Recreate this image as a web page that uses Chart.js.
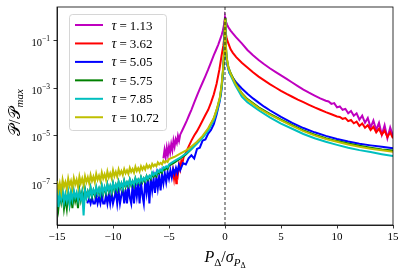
<!DOCTYPE html>
<html lang="en">
<head>
<meta charset="UTF-8">
<title>P distribution vs tau</title>
<script src="https://cdn.jsdelivr.net/npm/chart.js"></script>
<style>
  body { margin: 0; background: #fff; }
  canvas { display: block; }
</style>
</head>
<body>
<canvas id="chart" width="407" height="273"></canvas>
<script>
// legend values and line colours (matplotlib m, r, b, g, c, y)
const tauLabels = ['1.13', '3.62', '5.05', '5.75', '7.85', '10.72'];
const lineColors = ['#bf00bf', '#ff0000', '#0000ff', '#008000', '#00bfbf', '#bfbf00'];
const xTicks = [-15, -10, -5, 0, 5, 10, 15];
const yTickExps = [-7, -5, -3, -1];

// all y values are log10(P/Pmax)
const magLeftX = [-5.5,-5.4,-5.3,-5.2,-5.1,-5.0,-4.9,-4.8,-4.7,-4.6,-4.5,-4.4,-4.3,-4.2,-4.1,-4.0,-3.8,-3.6,-3.4,-3.2,-3.0,-2.75,-2.5,-2.25,-2.0,-1.75,-1.5,-1.25,-1.0,-0.8,-0.6,-0.45,-0.3,-0.2,-0.1,-0.05,0];
const magLeftY = [-5.95,-5.6,-5.9,-5.5,-5.8,-5.45,-5.7,-5.35,-5.6,-5.2,-5.45,-5.15,-5.3,-5.0,-5.2,-4.95,-4.75,-4.55,-4.35,-4.12,-3.9,-3.6,-3.3,-3.02,-2.75,-2.48,-2.2,-1.9,-1.6,-1.38,-1.15,-0.95,-0.75,-0.58,-0.35,-0.2,0];
const magRightX = [0.05,0.1,0.2,0.3,0.5,0.7,1.0,1.5,2,2.5,3,3.5,4,4.5,5,5.5,6,6.5,7,7.5,8,8.5,9,9.25,9.5,9.75,10,10.25,10.5,10.75,11,11.25,11.5,11.75,12,12.25,12.5,12.75,13,13.25,13.5,13.75,14,14.25,14.5,14.75,15];
const magRightY = [-0.12,-0.2,-0.32,-0.42,-0.56,-0.68,-0.85,-1.1,-1.38,-1.6,-1.8,-1.98,-2.15,-2.3,-2.45,-2.6,-2.75,-2.9,-3.05,-3.18,-3.3,-3.42,-3.52,-3.55,-3.65,-3.62,-3.8,-3.76,-3.9,-3.86,-4.05,-3.95,-4.15,-4.05,-4.32,-4.15,-4.45,-4.25,-4.65,-4.35,-4.75,-4.45,-4.95,-4.55,-5.1,-4.65,-5.0];

const redLeftX = [-4.75,-4.65,-4.55,-4.45,-4.35,-4.3,-4.2,-4.1,-4.0,-3.9,-3.8,-3.7,-3.5,-3.25,-3.0,-2.75,-2.5,-2.25,-2.0,-1.75,-1.5,-1.25,-1.0,-0.75,-0.5,-0.3,-0.15,-0.05,0];
const redLeftY = [-6.75,-6.45,-6.8,-6.4,-7.0,-6.35,-6.6,-6.2,-6.4,-6.05,-6.15,-5.9,-5.72,-5.45,-5.2,-4.98,-4.8,-4.58,-4.35,-4.12,-3.9,-3.6,-3.25,-2.8,-2.2,-1.6,-1.2,-0.8,-0.05];
const redRightX = [0.05,0.15,0.3,0.5,0.7,1.0,1.5,2,2.5,3,3.5,4,4.5,5,5.5,6,6.5,7,7.5,8,8.5,9,9.5,10,10.25,10.5,10.75,11,11.25,11.5,11.75,12,12.25,12.5,12.75,13,13.25,13.5,13.75,14,14.25,14.5,14.75,15];
const redRightY = [-0.6,-0.9,-1.1,-1.35,-1.5,-1.68,-1.92,-2.12,-2.32,-2.5,-2.66,-2.82,-2.96,-3.1,-3.23,-3.35,-3.47,-3.58,-3.69,-3.8,-3.9,-4.0,-4.09,-4.18,-4.2,-4.28,-4.25,-4.38,-4.33,-4.47,-4.4,-4.58,-4.48,-4.66,-4.55,-4.75,-4.62,-4.85,-4.7,-4.95,-4.78,-5.05,-4.85,-5.1];

const blueLeftX = [-12.3,
    -12.25,-12.125,-12,-11.875,-11.75,-11.625,-11.5,-11.375,
    -11.25,-11.125,-11,-10.875,-10.75,-10.625,-10.5,-10.375,
    -10.25,-10.125,-10,-9.875,-9.75,-9.625,-9.5,-9.375,
    -9.25,-9.125,-9,-8.875,-8.75,-8.625,-8.5,-8.375,
    -8.25,-8.125,-8,-7.875,-7.75,-7.625,-7.5,-7.375,
    -7.25,-7.125,-7,-6.875,-6.75,-6.625,-6.5,-6.375,
    -6.25,-6.125,-6,-5.875,-5.75,-5.625,-5.5,-5.375,
    -5.25,-5.125,-5.0,
    -4.875,-4.75,-4.625,-4.5,-4.375,-4.25,-4.125,-4.0,-3.75,-3.5,-3.25,-3.0,-2.75,-2.5,-2.25,-2.0,-1.75,-1.5,-1.25,-1.0,-0.75,-0.5,-0.35,-0.2,-0.1,-0.05,0];
const blueLeftY = [-7.85,
    -7.85,-7.65,-7.85,-7.6,-7.85,-7.85,-7.55,-7.85,
    -7.6,-7.85,-7.5,-7.85,-7.85,-7.5,-7.85,-7.45,
    -7.85,-7.4,-7.85,-7.6,-7.35,-7.85,-7.3,-7.85,
    -7.5,-7.2,-7.85,-7.25,-7.85,-7.1,-7.6,-7.85,
    -7.05,-7.85,-7.1,-7.55,-7.0,-7.85,-6.95,-7.5,
    -7.85,-6.9,-7.4,-6.85,-7.85,-6.82,-7.3,-6.8,
    -7.4,-6.72,-7.2,-6.7,-7.3,-6.62,-7.0,-6.58,
    -6.95,-6.52,-6.8,
    -6.45,-6.75,-6.4,-6.6,-6.35,-6.55,-6.25,-6.45,-6.15,-6.2,-5.95,-5.82,-5.95,-5.55,-5.5,-5.2,-5.15,-4.9,-4.75,-4.5,-4.1,-3.6,-3.2,-2.5,-1.8,-1.0,-0.08];
const blueRightX = [0.05,0.1,0.2,0.4,0.7,1,1.5,2,2.5,3,3.5,4,5,6,7,8,9,10,11,12,13,14,15];
const blueRightY = [-1.0,-1.6,-2.0,-2.35,-2.55,-2.75,-3.0,-3.22,-3.42,-3.6,-3.77,-3.92,-4.2,-4.45,-4.67,-4.85,-5.0,-5.13,-5.24,-5.33,-5.4,-5.46,-5.52];

// shared x positions for the tau = 5.75, 7.85, 10.72 curves
const lowLeftX = [
    -15,-14.875,-14.75,-14.625,-14.5,-14.375,-14.25,-14.125,
    -14,-13.875,-13.75,-13.625,-13.5,-13.375,-13.25,-13.125,
    -13,-12.875,-12.75,-12.625,-12.5,-12.375,-12.25,-12.125,
    -12,-11.875,-11.75,-11.625,-11.5,-11.375,-11.25,-11.125,
    -11,-10.875,-10.75,-10.625,-10.5,-10.375,-10.25,-10.125,
    -10,-9.875,-9.75,-9.625,-9.5,-9.375,-9.25,-9.125,
    -9,-8.875,-8.75,-8.625,-8.5,-8.375,-8.25,-8.125,
    -8,-7.875,-7.75,-7.625,-7.5,-7.375,-7.25,-7.125,
    -7,-6.875,-6.75,-6.625,-6.5,-6.375,-6.25,-6.125,
    -6,-5.875,-5.75,-5.625,-5.5,-5.375,-5.25,-5.125,
    -5,-4.5,-4,-3.5,-3,-2.5,-2,-1.5,-1.0,-0.7,-0.45,-0.3,-0.15,-0.08,-0.03,0];
const lowRightX = [0.05,0.15,0.3,0.5,0.9,1.5,2,3,4,5,6,7,8,9,10,11,12,13,14,15];

const greenLeftY = [
    -7.5,-8.05,-7.45,-7.8,-7.4,-8.05,-7.6,-8.05,
    -7.35,-7.9,-7.45,-8.05,-7.4,-7.75,-7.5,-8.05,
    -7.3,-7.7,-7.35,-7.75,-7.25,-7.6,-7.35,-7.55,
    -7.2,-7.55,-7.3,-7.5,-7.2,-7.45,-7.25,-7.5,
    -7.12,-7.45,-7.2,-7.4,-7.05,-7.35,-7.15,-7.4,
    -7.0,-7.3,-7.08,-7.28,-6.95,-7.22,-7.02,-7.25,
    -6.9,-7.15,-6.98,-7.12,-6.85,-7.08,-6.92,-7.1,
    -6.8,-7.0,-6.86,-7.0,-6.75,-6.95,-6.8,-6.92,
    -6.7,-6.85,-6.72,-6.82,-6.6,-6.72,-6.62,-6.7,
    -6.5,-6.58,-6.48,-6.55,-6.38,-6.42,-6.35,-6.4,
    -6.25,-6.12,-5.95,-5.78,-5.55,-5.3,-5.05,-4.72,-4.28,-3.85,-3.4,-2.9,-2.1,-1.5,-0.8,-0.05];
const greenRightY = [-1.0,-1.7,-2.1,-2.35,-2.75,-3.2,-3.45,-3.8,-4.07,-4.32,-4.55,-4.77,-4.95,-5.1,-5.22,-5.32,-5.42,-5.5,-5.57,-5.62];
const cyanLeftY = [
    -7.25,-8.0,-7.4,-7.7,-7.3,-7.8,-7.45,-7.75,
    -7.35,-7.85,-7.4,-7.7,-7.3,-7.6,-7.4,-7.7,
    -7.35,-7.65,-7.4,-8.35,-7.3,-7.6,-7.35,-7.55,
    -7.2,-7.5,-7.28,-7.45,-7.15,-7.42,-7.22,-7.45,
    -7.1,-7.4,-7.15,-7.35,-7.05,-7.3,-7.1,-7.32,
    -7.0,-7.25,-7.05,-7.22,-6.95,-7.18,-7.0,-7.2,
    -6.9,-7.1,-6.95,-7.08,-6.85,-7.05,-6.9,-7.05,
    -6.8,-6.98,-6.84,-6.96,-6.75,-6.9,-6.78,-6.88,
    -6.7,-6.8,-6.68,-6.76,-6.55,-6.65,-6.56,-6.62,
    -6.45,-6.52,-6.42,-6.48,-6.32,-6.35,-6.28,-6.32,
    -6.2,-6.05,-5.92,-5.75,-5.55,-5.32,-5.08,-4.78,-4.35,-3.92,-3.45,-2.95,-2.15,-1.55,-0.85,-0.05];
const cyanRightY = [-1.05,-1.8,-2.2,-2.45,-2.85,-3.35,-3.58,-3.92,-4.22,-4.48,-4.7,-4.92,-5.1,-5.25,-5.38,-5.5,-5.6,-5.68,-5.77,-5.85];
const yellowLeftY = [
    -6.9,-7.3,-7.0,-7.35,-6.85,-7.15,-6.95,-7.25,
    -6.8,-7.1,-6.9,-7.2,-6.78,-7.05,-6.85,-7.15,
    -6.72,-7.0,-6.8,-7.08,-6.7,-6.95,-6.75,-7.0,
    -6.65,-6.9,-6.72,-6.95,-6.6,-6.85,-6.68,-6.9,
    -6.55,-6.8,-6.62,-6.85,-6.5,-6.75,-6.58,-6.78,
    -6.45,-6.7,-6.52,-6.72,-6.42,-6.62,-6.48,-6.65,
    -6.4,-6.58,-6.45,-6.6,-6.35,-6.52,-6.4,-6.55,
    -6.3,-6.48,-6.36,-6.5,-6.28,-6.42,-6.3,-6.42,
    -6.22,-6.35,-6.25,-6.36,-6.18,-6.28,-6.2,-6.28,
    -6.12,-6.2,-6.14,-6.2,-6.05,-6.12,-6.06,-6.1,
    -5.98,-5.88,-5.75,-5.62,-5.45,-5.25,-5.0,-4.68,-4.25,-3.82,-3.35,-2.85,-2.05,-1.45,-0.75,-0.05];
const yellowRightY = [-1.0,-1.7,-2.12,-2.38,-2.78,-3.22,-3.48,-3.83,-4.1,-4.35,-4.58,-4.8,-4.98,-5.13,-5.25,-5.36,-5.46,-5.54,-5.61,-5.67];

function toPoints(xs, logs) {
    return xs.map((x, i) => ({ x: x, y: Math.pow(10, logs[i]) }));
}

const seriesPoints = [
    toPoints(magLeftX.concat(magRightX), magLeftY.concat(magRightY)),
    toPoints(redLeftX.concat(redRightX), redLeftY.concat(redRightY)),
    toPoints(blueLeftX.concat(blueRightX), blueLeftY.concat(blueRightY)),
    toPoints(lowLeftX.concat(lowRightX), greenLeftY.concat(greenRightY)),
    toPoints(lowLeftX.concat(lowRightX), cyanLeftY.concat(cyanRightY)),
    toPoints(lowLeftX.concat(lowRightX), yellowLeftY.concat(yellowRightY))
];

const SERIF = '"Liberation Serif", "DejaVu Serif", serif';

// draw a run of text pieces (for sub/superscripts), returns width
function pieces(ctx, parts, x, y, measureOnly) {
    let cx = x;
    parts.forEach(p => {
        ctx.font = p.f + ' ' + SERIF;
        if (!measureOnly) ctx.fillText(p.t, cx, y + (p.dy || 0));
        cx += ctx.measureText(p.t).width + (p.gap || 0);
    });
    return cx - x;
}

const decor = {
    id: 'decor',
    afterDatasetsDraw(chart) {
        const { ctx, chartArea: a, scales } = chart;
        ctx.save();
        // dashed line at zero
        const x0 = scales.x.getPixelForValue(0);
        ctx.strokeStyle = '#000';
        ctx.lineWidth = 0.8;
        ctx.setLineDash([3, 2]);
        ctx.beginPath();
        ctx.moveTo(x0, a.top);
        ctx.lineTo(x0, a.bottom);
        ctx.stroke();
        ctx.setLineDash([]);
        // frame
        ctx.strokeRect(a.left, a.top, a.right - a.left, a.bottom - a.top);

        // legend
        ctx.fillStyle = 'rgba(255,255,255,0.8)';
        ctx.strokeStyle = '#cccccc';
        ctx.beginPath();
        ctx.roundRect(69.5, 14.5, 97, 116, 3);
        ctx.fill();
        ctx.stroke();
        tauLabels.forEach((lab, i) => {
            const y = 25 + i * 18.45;
            ctx.strokeStyle = lineColors[i];
            ctx.lineWidth = 2;
            ctx.beginPath();
            ctx.moveTo(75, y);
            ctx.lineTo(103, y);
            ctx.stroke();
            ctx.fillStyle = '#000';
            ctx.textBaseline = 'alphabetic';
            ctx.textAlign = 'left';
            pieces(ctx, [
                { t: 'τ', f: 'italic 14px', gap: 3 },
                { t: '=', f: '13px', gap: 3 },
                { t: lab, f: '13px' }
            ], 111.5, y + 4.5);
        });
        ctx.restore();
    },
    afterDraw(chart) {
        const { ctx, scales } = chart;
        ctx.save();
        ctx.fillStyle = '#000';
        ctx.textAlign = 'left';
        ctx.textBaseline = 'alphabetic';
        // y tick labels 10^n
        yTickExps.forEach(e => {
            const y = scales.y.getPixelForValue(Math.pow(10, e));
            const parts = [
                { t: '10', f: '10.5px', dy: 5.5 },
                { t: '−' + Math.abs(e), f: '7.5px', dy: 0.5 }
            ];
            const w = pieces(ctx, parts, 0, 0, true);
            pieces(ctx, parts, 50 - w, y);
        });
        // x axis title
        const xt = [
            { t: 'P', f: 'italic 16px' },
            { t: 'Δ', f: '11px', dy: 3.5 },
            { t: '/', f: '16px' },
            { t: 'σ', f: 'italic 16px' },
            { t: 'P', f: 'italic 11px', dy: 3.5 },
            { t: 'Δ', f: '8px', dy: 6 }
        ];
        const xw = pieces(ctx, xt, 0, 0, true);
        pieces(ctx, xt, 225 - xw / 2, 262);
        // y axis title
        const yt = [
            { t: '𝒫', f: '16px' },
            { t: '/', f: '16px' },
            { t: '𝒫', f: '16px' },
            { t: 'max', f: 'italic 11px', dy: 3 }
        ];
        const yw = pieces(ctx, yt, 0, 0, true);
        ctx.translate(20, 112.5);
        ctx.rotate(-Math.PI / 2);
        pieces(ctx, yt, -yw / 2, 0);
        ctx.restore();
    }
};

new Chart(document.getElementById('chart'), {
    type: 'line',
    data: {
        datasets: seriesPoints.map((pts, i) => ({
            label: 'τ = ' + tauLabels[i],
            data: pts,
            borderColor: lineColors[i],
            borderWidth: 2,
            pointRadius: 0,
            fill: false,
            tension: 0,
            order: 6 - i
        }))
    },
    options: {
        responsive: false,
        animation: false,
        devicePixelRatio: 1,
        layout: { padding: { top: 7, right: 14, left: 0, bottom: 0 } },
        plugins: { legend: { display: false }, tooltip: { enabled: false } },
        scales: {
            x: {
                type: 'linear',
                min: -15,
                max: 15,
                afterBuildTicks: s => { s.ticks = xTicks.map(v => ({ value: v })); },
                afterFit: s => { s.height = 48; },
                grid: { drawOnChartArea: false, drawTicks: true, tickLength: 3.5, tickColor: '#000', tickWidth: 0.8 },
                border: { display: true, color: '#000', width: 0.8 },
                ticks: {
                    color: '#000',
                    padding: 2,
                    maxRotation: 0,
                    font: { family: SERIF, size: 11 },
                    callback: v => (v < 0 ? '−' + Math.abs(v) : String(v))
                }
            },
            y: {
                type: 'logarithmic',
                min: 1.75e-9,
                max: 2.71,
                afterBuildTicks: s => { s.ticks = yTickExps.map(e => ({ value: Math.pow(10, e) })); },
                afterFit: s => { s.width = 57; },
                grid: { drawOnChartArea: false, drawTicks: true, tickLength: 3.5, tickColor: '#000', tickWidth: 0.8 },
                border: { display: true, color: '#000', width: 0.8 },
                ticks: { display: false }
            }
        }
    },
    plugins: [decor]
});
</script>
</body>
</html>
